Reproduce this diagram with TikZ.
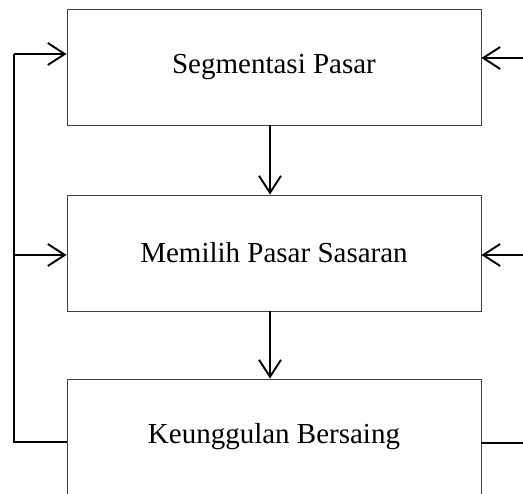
\documentclass[tikz,border=0pt]{standalone}
\usepackage{fontspec}
\setmainfont{Liberation Serif}
\usetikzlibrary{arrows.meta}
\tikzstyle{stage}=[draw=black!75, line width=0.9pt, rectangle, minimum width=414pt, minimum height=116pt, inner sep=0pt, font=\fontsize{29}{35}\selectfont]
\tikzstyle{flow}=[line width=1.9pt, -{Straight Barb[length=17pt, width=22pt, line width=1.9pt]}]
\tikzstyle{feed}=[line width=1.9pt]

\begin{document}
\begin{tikzpicture}[x=1pt, y=-1pt]
    \clip (0,0) rectangle (523,494);
    \useasboundingbox (0,0) rectangle (523,494);
% Stages
    \node[stage] (seg) at (274,67) {Segmentasi Pasar};
    \node[stage] (target) at (274,253) {Memilih Pasar Sasaran};
    \node[stage] (adv) at (274,437) {Keunggulan Bersaing};
% Downward flow
    \draw[flow] ([xshift=-4pt]seg.south) -- ([xshift=-4pt]target.north);
    \draw[flow] ([xshift=-4pt]target.south) -- ([xshift=-4pt]adv.north);
% Feedback on the left
    \coordinate (l1) at (14,54);
    \coordinate (l2) at (14,255);
    \coordinate (l3) at (14,442);
    \draw[feed] (adv.west |- l3) -- (l3) -- (l1);
    \draw[flow] (l1) -- (seg.west |- l1);
    \draw[flow] (l2) -- (target.west |- l2);
% Inputs from the right
    \coordinate (r1) at (524,58);
    \coordinate (r2) at (524,255);
    \coordinate (r3) at (524,443);
    \draw[flow] (r1) -- (seg.east |- r1);
    \draw[flow] (r2) -- (target.east |- r2);
    \draw[feed] (r3) -- (adv.east |- r3);
\end{tikzpicture}
\end{document}
